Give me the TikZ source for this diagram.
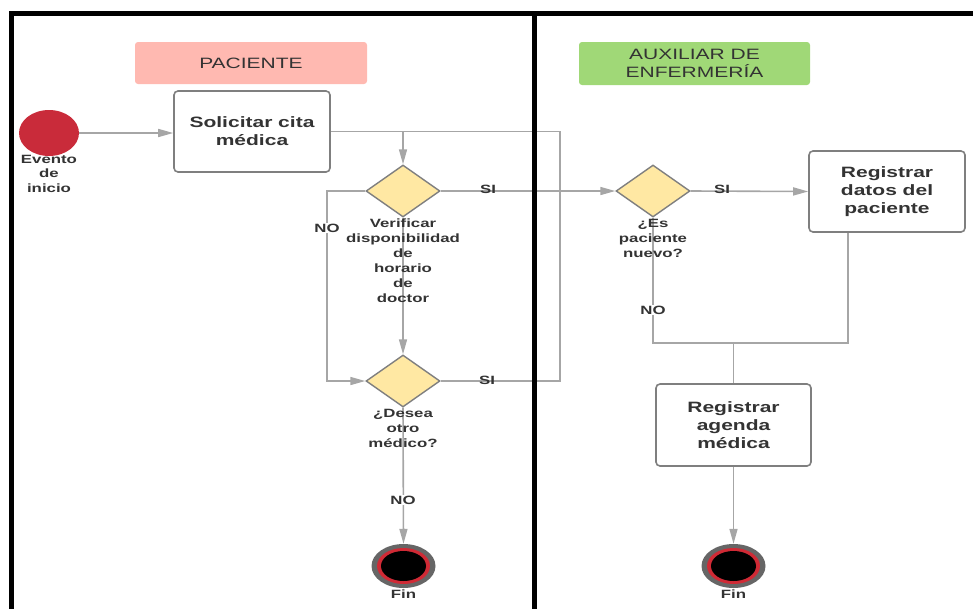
\documentclass[tikz,border=0pt]{standalone}
\usepackage{fontspec}
\setmainfont{Liberation Sans}[FakeStretch=1.4]
\usetikzlibrary{shapes.geometric,arrows.meta,backgrounds}

\definecolor{linegray}{HTML}{A6A6A6}
\definecolor{boxgray}{HTML}{7F7F7F}
\definecolor{txtgray}{HTML}{333333}
\definecolor{lanepink}{HTML}{FFB9B1}
\definecolor{lanegreen}{HTML}{A0D877}
\definecolor{decfill}{HTML}{FFE8A3}
\definecolor{startred}{HTML}{C92B3A}
\definecolor{finred}{HTML}{D02A35}

\tikzset{
  lanehead/.style={rounded corners=3pt, minimum width=232pt, minimum height=42pt,
    inner sep=0pt, align=center, text=txtgray, font=\fontsize{15}{18}\selectfont},
  actbox/.style={draw=boxgray, line width=1.6pt, rounded corners=4pt, fill=white,
    minimum width=156pt, minimum height=81pt, align=center, text=txtgray,
    font=\bfseries\fontsize{15}{18}\selectfont},
  decision/.style={diamond, draw=boxgray, line width=1.4pt, fill=decfill,
    minimum width=74pt, minimum height=52pt, inner sep=0pt},
  desc/.style={align=center, anchor=north, inner sep=0pt, text=txtgray,
    font=\bfseries\fontsize{12}{15}\selectfont},
  lab/.style={fill=white, inner sep=1pt, text=txtgray,
    font=\bfseries\fontsize{12}{14}\selectfont},
  conn/.style={draw=linegray, line width=1.6pt},
  flow/.style={conn, -{Triangle[length=15pt,width=8pt]}},
  endring/.style={ellipse, inner sep=0pt, minimum width=64pt, minimum height=44pt,
    fill=black!60},
}

\begin{document}
\begin{tikzpicture}[x=1pt, y=-1pt]
  \useasboundingbox (0,0) rectangle (973,608);

  % lane headers
  \node[lanehead, fill=lanepink] (hpac) at (251,63) {PACIENTE};
  \node[lanehead, fill=lanegreen, minimum width=231pt, minimum height=43pt] (haux) at (694.5,63.5)
    {AUXILIAR DE\\ENFERMERÍA};

  % start event
  \node[ellipse, fill=startred, minimum width=60pt, minimum height=46pt, inner sep=0pt]
    (start) at (49,133) {};
  \node[desc, font=\bfseries\fontsize{12}{14.5}\selectfont] (startlab) at (49,155)
    {Evento\\de\\inicio};

  % activities
  \node[actbox] (sol) at (252,131.5) {Solicitar cita\\médica};
  \node[actbox, minimum width=156pt, minimum height=81pt] (reg1) at (887,191.5)
    {Registrar\\datos del\\paciente};
  \node[actbox, minimum width=155pt, minimum height=82pt] (reg2) at (733.5,425)
    {Registrar\\agenda\\médica};

  % decisions
  \node[decision] (d1) at (403,191) {};
  \node[desc] (d1lab) at (403,219) {Verificar\\disponibilidad\\de\\horario\\de\\doctor};
  \node[decision] (d2) at (403,381) {};
  \node[desc] (d2lab) at (403,409) {¿Desea\\otro\\médico?};
  \node[decision] (d3) at (653,191) {};
  \node[desc] (d3lab) at (653,219) {¿Es\\paciente\\nuevo?};

  % end events
  \node[endring] (fin1) at (403.5,566) {};
  \fill[finred] (fin1.center) ellipse [x radius=26.5pt, y radius=18pt];
  \fill[black] (fin1.center) ellipse [x radius=22.5pt, y radius=15pt];
  \node[desc, font=\bfseries\fontsize{12}{14}\selectfont] (fin1lab) at (403.5,590) {Fin};

  \node[endring] (fin2) at (733.5,566) {};
  \fill[finred] (fin2.center) ellipse [x radius=26.5pt, y radius=18pt];
  \fill[black] (fin2.center) ellipse [x radius=22.5pt, y radius=15pt];
  \node[desc, font=\bfseries\fontsize{12}{14}\selectfont] (fin2lab) at (733.5,590) {Fin};

  % route points
  \coordinate (jd1) at (403,131.5);
  \coordinate (lpR) at (560,131.5);
  \coordinate (lpB) at (560,381);
  \coordinate (noT) at (327,191);
  \coordinate (noB) at (327,381);
  \coordinate (n3B) at (653,343);
  \coordinate (r1B) at (848,343);
  \coordinate (r1S) at (848,232);
  \coordinate (mrg) at (733.5,343);

  \begin{pgfonlayer}{background}
    \draw[flow] (start.east) -- (start.east -| sol.west);
    \draw[conn] (sol.east) -- (lpR) -- (lpB) -- (d2.east);
    \draw[flow] (jd1) -- (d1.north);
    \draw[flow] (d1.south) -- (d2.north);
    \draw[flow] (d1.west) -- (noT) -- (noB) -- (d2.west);
    \draw[flow] (d2.south) -- (fin1.north);
    \draw[flow] (d1.east) -- (d3.west);
    \draw[flow] (d3.east) -- (reg1.west);
    \draw[conn] (d3.south) -- (n3B) -- (r1B) -- (r1S);
    \draw[conn] (mrg) -- (reg2.north);
    \draw[flow] (reg2.south) -- (fin2.north);
  \end{pgfonlayer}

  % swimlane frame, over the connectors
  \draw[line width=5pt] (11,13) -- (990,13);
  \draw[line width=5pt] (11,11) -- (11,620);
  \draw[line width=5pt] (534,13) -- (534,620);

  % branch labels
  \node[lab, fill=none] (si1) at (488,189) {SI};
  \node[lab, fill=none] (si2) at (487,380) {SI};
  \node[lab, fill=none] (si3) at (722,189) {SI};
  \node[lab] (no1) at (327,228) {NO};
  \node[lab] (no2) at (403,500) {NO};
  \node[lab] (no3) at (653,310) {NO};
\end{tikzpicture}
\end{document}
